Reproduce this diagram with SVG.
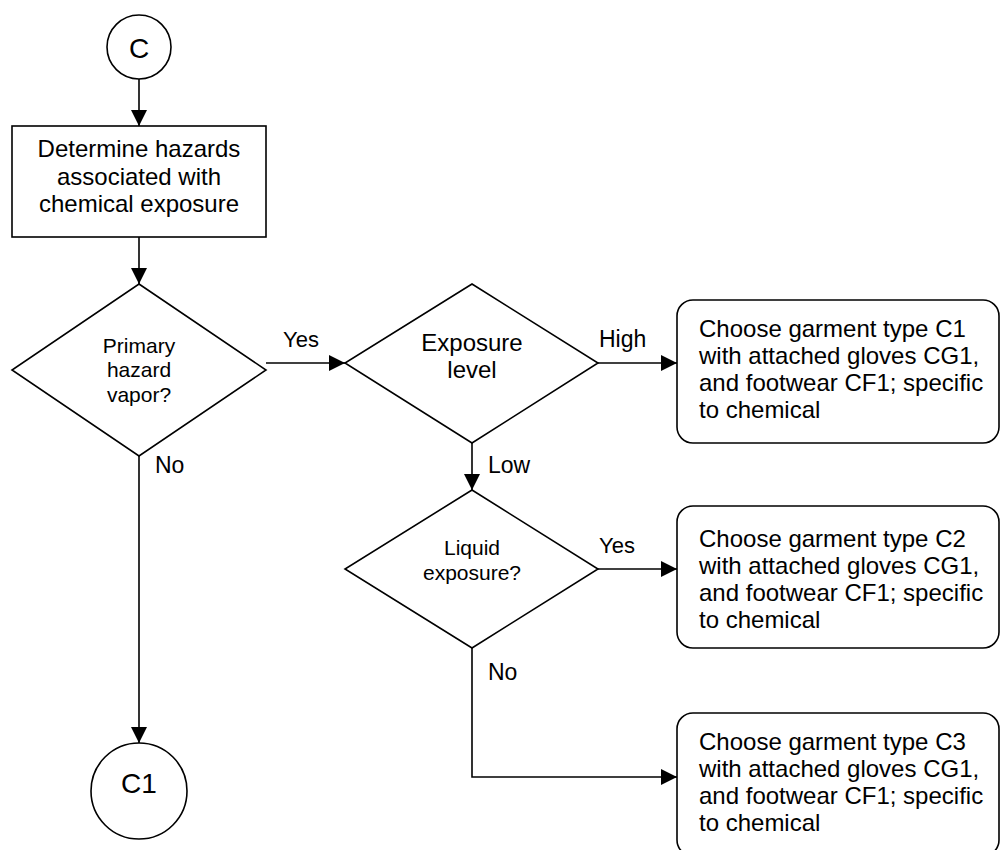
<svg xmlns="http://www.w3.org/2000/svg" width="1000" height="850" viewBox="0 0 1000 850">
<style>
.shape{fill:#fff;stroke:#000;stroke-width:1.6}
.conn{fill:none;stroke:#000;stroke-width:1.6}
text{font-family:"Liberation Sans",Arial,sans-serif;fill:#000}
.c{text-anchor:middle}
.t24{font-size:24px}
.t21{font-size:21px}
.lbl{font-size:23px}
.big{font-size:28px}
</style>
<defs>
<marker id="arr" markerUnits="userSpaceOnUse" markerWidth="16" markerHeight="16" refX="16" refY="8" orient="auto">
<path d="M0,0 L16,8 L0,16 z" fill="#000"/>
</marker>
</defs>
<rect width="1000" height="850" fill="#fff"/>
<g id="connectors">
<line class="conn" x1="139" y1="79" x2="139" y2="126" marker-end="url(#arr)"/>
<line class="conn" x1="139" y1="237" x2="139" y2="284" marker-end="url(#arr)"/>
<line class="conn" x1="266" y1="363" x2="345" y2="363" marker-end="url(#arr)"/>
<line class="conn" x1="598" y1="363" x2="677" y2="363" marker-end="url(#arr)"/>
<line class="conn" x1="472" y1="443" x2="472" y2="490" marker-end="url(#arr)"/>
<line class="conn" x1="598" y1="569" x2="677" y2="569" marker-end="url(#arr)"/>
<polyline class="conn" points="472,648 472,777 677,777" marker-end="url(#arr)"/>
<line class="conn" x1="139" y1="456" x2="139" y2="743" marker-end="url(#arr)"/>
<text x="283" y="347" style="font-size:22px">Yes</text>
<text class="lbl" x="599" y="347">High</text>
<text class="lbl" x="488" y="473">Low</text>
<text class="lbl" x="155" y="473">No</text>
<text x="599" y="553" style="font-size:22px">Yes</text>
<text class="lbl" x="488" y="680">No</text>
</g>
<g id="start-c">
<circle class="shape" cx="139" cy="47" r="32"/>
<text class="c big" x="139" y="58">C</text>
</g>
<g id="determine">
<rect class="shape" x="12" y="126" width="254" height="111"/>
<text class="c t24" x="139" y="157">Determine hazards</text>
<text class="c t24" x="139" y="185">associated with</text>
<text class="c t24" x="139" y="212">chemical exposure</text>
</g>
<g id="primary-vapor">
<polygon class="shape" points="139,284 266,370 139,456 12,370"/>
<text class="c t21" x="139" y="353">Primary</text>
<text class="c t21" x="139" y="377">hazard</text>
<text class="c t21" x="139" y="402">vapor?</text>
</g>
<g id="exposure-level">
<polygon class="shape" points="472,284 598,363 472,443 345,363"/>
<text class="c t24" x="472" y="351">Exposure</text>
<text class="c t24" x="472" y="378">level</text>
</g>
<g id="liquid-exposure">
<polygon class="shape" points="472,490 598,569 472,648 345,569"/>
<text class="c t21" x="472" y="555">Liquid</text>
<text class="c t21" x="472" y="580">exposure?</text>
</g>
<g id="c1-box">
<rect class="shape" x="677" y="300" width="322" height="143" rx="16"/>
<text class="t24" x="699" y="337">Choose garment type C1</text>
<text class="t24" x="699" y="364">with attached gloves CG1,</text>
<text class="t24" x="699" y="391">and footwear CF1; specific</text>
<text class="t24" x="699" y="418">to chemical</text>
</g>
<g id="c2-box">
<rect class="shape" x="677" y="506" width="322" height="142" rx="16"/>
<text class="t24" x="699" y="547">Choose garment type C2</text>
<text class="t24" x="699" y="574">with attached gloves CG1,</text>
<text class="t24" x="699" y="601">and footwear CF1; specific</text>
<text class="t24" x="699" y="628">to chemical</text>
</g>
<g id="c3-box">
<rect class="shape" x="677" y="713" width="322" height="143" rx="16"/>
<text class="t24" x="699" y="750">Choose garment type C3</text>
<text class="t24" x="699" y="777">with attached gloves CG1,</text>
<text class="t24" x="699" y="804">and footwear CF1; specific</text>
<text class="t24" x="699" y="831">to chemical</text>
</g>
<g id="end-c1">
<circle class="shape" cx="139" cy="791" r="48"/>
<text class="c big" x="139" y="793">C1</text>
</g>
</svg>
